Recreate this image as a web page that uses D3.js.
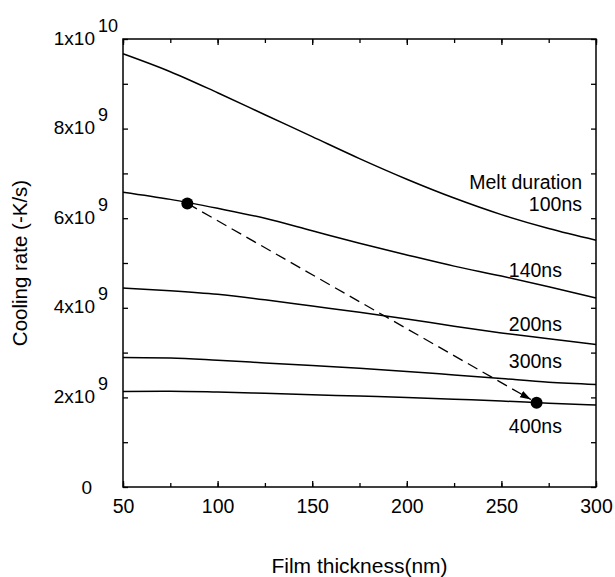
<!DOCTYPE html>
<html>
<head>
<meta charset="utf-8">
<script src="https://cdn.jsdelivr.net/npm/d3@7"></script>
<style>
  html, body { margin: 0; padding: 0; background: #fff; }
  svg { display: block; font-family: "Liberation Sans", Arial, Helvetica, sans-serif; }
</style>
</head>
<body>
<div id="chart"></div>
<script>
// film thickness (nm) sampled along each curve
const thickness = [50, 75, 100, 125, 150, 175, 200, 225, 250, 275, 300];

// cooling rate (-K/s)
const rate100ns = [9.67e9, 9.27e9, 8.80e9, 8.31e9, 7.82e9, 7.33e9, 6.87e9, 6.45e9, 6.08e9, 5.77e9, 5.51e9];
const rate140ns = [6.58e9, 6.42e9, 6.22e9, 6.00e9, 5.72e9, 5.44e9, 5.18e9, 4.93e9, 4.71e9, 4.47e9, 4.22e9];
const rate200ns = [4.44e9, 4.38e9, 4.30e9, 4.18e9, 4.04e9, 3.90e9, 3.75e9, 3.59e9, 3.44e9, 3.31e9, 3.18e9];
const rate300ns = [2.89e9, 2.88e9, 2.83e9, 2.77e9, 2.71e9, 2.65e9, 2.58e9, 2.50e9, 2.42e9, 2.34e9, 2.29e9];
const rate400ns = [2.13e9, 2.14e9, 2.12e9, 2.09e9, 2.06e9, 2.03e9, 2.00e9, 1.96e9, 1.92e9, 1.87e9, 1.83e9];

const seriesNames = ["100ns", "140ns", "200ns", "300ns", "400ns"];
const seriesRates = [rate100ns, rate140ns, rate200ns, rate300ns, rate400ns];

// the two marked points joined by the dashed arrow
const markThickness = [84, 268.6];
const markRate = [6.33e9, 1.88e9];

const xTicks = [50, 100, 150, 200, 250, 300];
const yTicks = [0, 2e9, 4e9, 6e9, 8e9, 1e10];

// label anchors (data space), right aligned
const labelX = [292.6, 282, 282, 282, 282];
const labelY = [6.16e9, 4.68e9, 3.49e9, 2.66e9, 1.2e9];

const width = 615, height = 577;
const margin = { top: 39, right: 19, bottom: 90, left: 123 };

const svg = d3.select("#chart").append("svg")
  .attr("width", width)
  .attr("height", height);

const x = d3.scaleLinear().domain([50, 300]).range([margin.left, width - margin.right]);
const y = d3.scaleLinear().domain([0, 1e10]).range([height - margin.bottom, margin.top]);

const x0 = x.range()[0], x1 = x.range()[1];
const y0 = y.range()[0], y1 = y.range()[1];

const minorX = d3.range(50, 301, 25);
const minorY = d3.range(0, 1e10 + 1, 1e9);

// inward ticks on all four sides
function ticks(axis, transform, values, size) {
  const g = svg.append("g")
    .attr("transform", transform)
    .call(axis.tickValues(values).tickSize(size).tickFormat(""));
  g.select(".domain").remove();
  g.selectAll("line").attr("stroke", "#000").attr("stroke-width", 1.3);
  return g;
}

ticks(d3.axisBottom(x), `translate(0,${y0})`, minorX, -4);
ticks(d3.axisTop(x), `translate(0,${y1})`, minorX, -4);
ticks(d3.axisTop(x), `translate(0,${y1})`, xTicks, -6);
ticks(d3.axisLeft(y), `translate(${x0},0)`, minorY, -5);
ticks(d3.axisRight(y), `translate(${x1},0)`, minorY, -5);

const xMajor = svg.append("g")
  .attr("transform", `translate(0,${y0})`)
  .call(d3.axisBottom(x).tickValues(xTicks).tickSize(-6).tickFormat(d3.format("d")));
xMajor.select(".domain").remove();
xMajor.selectAll("line").attr("stroke", "#000").attr("stroke-width", 1.3);
xMajor.selectAll("text")
  .attr("font-size", "19.5px")
  .attr("fill", "#000")
  .attr("dy", null)
  .attr("y", 26);
xMajor.attr("font-family", null);

// y tick labels written as "Nx10" with a raised exponent
const yLab = svg.append("g").attr("font-size", "19px").attr("fill", "#000");
yTicks.forEach(v => {
  const ty = y(v) + 5.5;
  if (v === 0) {
    yLab.append("text").attr("x", x0 - 31).attr("y", ty + 1).attr("text-anchor", "end").text("0");
    return;
  }
  const exp = Math.floor(Math.log10(v) + 1e-9);
  const mant = Math.round(v / Math.pow(10, exp));
  yLab.append("text").attr("x", x0 - 28).attr("y", ty).attr("text-anchor", "end").text(mant + "x10");
  yLab.append("text").attr("x", x0 - 25).attr("y", ty - 13)
    .attr("font-size", "18px").text(exp);
});

// frame
svg.append("rect")
  .attr("x", x0).attr("y", y1)
  .attr("width", x1 - x0).attr("height", y0 - y1)
  .attr("fill", "none").attr("stroke", "#000").attr("stroke-width", 1.5);

// curves
const line = d3.line()
  .x((d, i) => x(thickness[i]))
  .y(d => y(d))
  .curve(d3.curveMonotoneX);

svg.append("g").selectAll("path")
  .data(seriesRates)
  .join("path")
  .attr("d", line)
  .attr("fill", "none")
  .attr("stroke", "#000")
  .attr("stroke-width", 1.5);

// series labels
const lab = svg.append("g").attr("font-size", "19.5px").attr("fill", "#000").attr("text-anchor", "end");
lab.append("text")
  .attr("x", x(labelX[0]))
  .attr("y", y(labelY[0]) - 22)
  .text("Melt duration");
lab.selectAll("text.series")
  .data(seriesNames)
  .join("text")
  .attr("class", "series")
  .attr("x", (d, i) => x(labelX[i]))
  .attr("y", (d, i) => y(labelY[i]))
  .text(d => d);

// dashed arrow between the two marked points
svg.append("defs").append("marker")
  .attr("id", "head")
  .attr("markerUnits", "userSpaceOnUse")
  .attr("markerWidth", 12).attr("markerHeight", 8)
  .attr("refX", 11).attr("refY", 4)
  .attr("orient", "auto")
  .append("path")
  .attr("d", "M0,0.5 L11,4 L0,7.5 Z")
  .attr("fill", "#000");

const px = markThickness.map(x), py = markRate.map(y);
const dx = px[1] - px[0], dy = py[1] - py[0];
const len = Math.hypot(dx, dy);
const r = 6;
svg.append("line")
  .attr("x1", px[0]).attr("y1", py[0])
  .attr("x2", px[1] - dx / len * (r + 0.5))
  .attr("y2", py[1] - dy / len * (r + 0.5))
  .attr("stroke", "#000")
  .attr("stroke-width", 1.3)
  .attr("stroke-dasharray", "11,6")
  .attr("marker-end", "url(#head)");

svg.append("g").selectAll("circle")
  .data(markThickness)
  .join("circle")
  .attr("cx", d => x(d))
  .attr("cy", (d, i) => y(markRate[i]))
  .attr("r", r)
  .attr("fill", "#000");

// axis titles
svg.append("text")
  .attr("x", (x0 + x1) / 2)
  .attr("y", 573)
  .attr("text-anchor", "middle")
  .attr("font-size", "21px")
  .text("Film thickness(nm)");

svg.append("text")
  .attr("transform", `translate(27,${(y0 + y1) / 2}) rotate(-90)`)
  .attr("text-anchor", "middle")
  .attr("font-size", "20.5px")
  .text("Cooling rate (-K/s)");
</script>
</body>
</html>
